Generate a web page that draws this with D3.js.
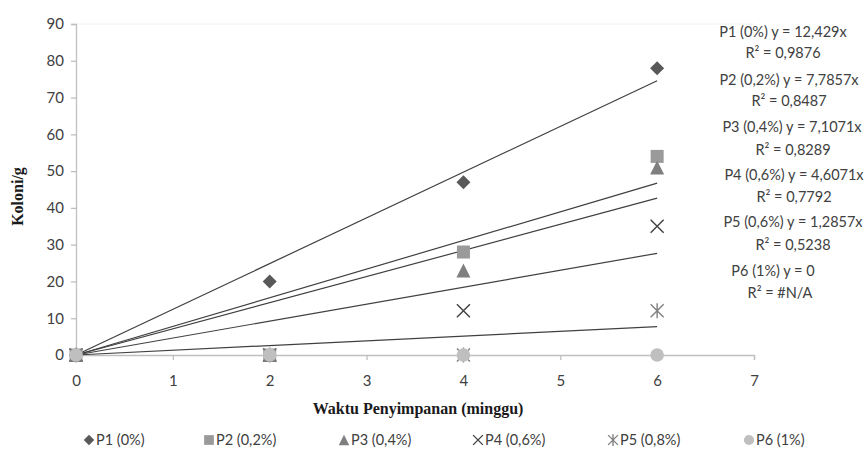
<!DOCTYPE html>
<html>
<head>
<meta charset="utf-8">
<script src="https://cdn.jsdelivr.net/npm/d3@7"></script>
<style>
  html, body { margin: 0; padding: 0; background: #fff; }
  svg { display: block; }
</style>
</head>
<body>
<svg id="chart" width="866" height="454"></svg>
<script>
// Storage time (weeks) at which colonies were counted
const weeks = [0, 2, 4, 6];

// Colony counts per treatment
const seriesNames = ["P1 (0%)", "P2 (0,2%)", "P3 (0,4%)", "P4 (0,6%)", "P5 (0,8%)", "P6 (1%)"];
const p1 = [0, 20, 47, 78];
const p2 = [0, 0, 28, 54];
const p3 = [0, 0, 23, 51];
const p4 = [0, 0, 12, 35];
const p5 = [0, 0, 0, 12];
const p6 = [0, 0, 0, 0];

// Linear trend (through origin) slopes and equation labels
const slopes = [12.429, 7.7857, 7.1071, 4.6071, 1.2857, 0];
const eqLabels = ["P1 (0%) y = 12,429x", "P2 (0,2%) y = 7,7857x", "P3 (0,4%) y = 7,1071x",
                  "P4 (0,6%) y = 4,6071x", "P5 (0,6%) y = 1,2857x", "P6 (1%) y = 0"];
const r2Labels = ["R² = 0,9876", "R² = 0,8487", "R² = 0,8289", "R² = 0,7792", "R² = 0,5238", "R² = #N/A"];

const xTicks = [0, 1, 2, 3, 4, 5, 6, 7];
const yTicks = [0, 10, 20, 30, 40, 50, 60, 70, 80, 90];

const values = [p1, p2, p3, p4, p5, p6];
const markerShapes = ["diamond", "square", "triangle", "x", "asterisk", "circle"];
const markerColors = ["#595959", "#9a9a9a", "#7f7f7f", "#404040", "#808080", "#bfbfbf"];

const svg = d3.select("#chart");
const x = d3.scaleLinear().domain([0, 7]).range([76, 754]);
const y = d3.scaleLinear().domain([0, 90]).range([355, 24]);

const tickFont = "Lato, 'Open Sans', sans-serif";
const textColor = "#404040";

// faint top border of the plot area
svg.append("line")
  .attr("x1", x(0)).attr("x2", x(7)).attr("y1", y(90)).attr("y2", y(90))
  .attr("stroke", "#f2f2f2").attr("stroke-width", 1);

// y axis
const yAxis = svg.append("g")
  .attr("transform", `translate(${x(0)},0)`)
  .call(d3.axisLeft(y).tickValues(yTicks).tickFormat(d3.format("d")).tickSize(5).tickPadding(7));
// x axis
const xAxis = svg.append("g")
  .attr("transform", `translate(0,${y(0)})`)
  .call(d3.axisBottom(x).tickValues(xTicks).tickFormat(d3.format("d")).tickSize(5).tickPadding(15));

[yAxis, xAxis].forEach(g => {
  g.select(".domain").attr("stroke", "#bfbfbf").attr("stroke-width", 1.3);
  g.selectAll(".tick line").attr("stroke", "#bfbfbf").attr("stroke-width", 1.3);
  g.selectAll(".tick text")
    .attr("fill", textColor)
    .style("font-family", tickFont)
    .style("font-size", "15px");
});

// axis titles
svg.append("text")
  .attr("transform", `translate(23,${y(45) + 7}) rotate(-90)`)
  .attr("text-anchor", "middle")
  .style("font-family", "'Liberation Serif', 'Times New Roman', serif")
  .style("font-weight", "bold")
  .style("font-size", "16px")
  .attr("fill", "#1a1a1a")
  .text("Koloni/g");

svg.append("text")
  .attr("x", 418).attr("y", 414)
  .attr("text-anchor", "middle")
  .style("font-family", "'Liberation Serif', 'Times New Roman', serif")
  .style("font-weight", "bold")
  .style("font-size", "16px")
  .attr("fill", "#1a1a1a")
  .text("Waktu Penyimpanan (minggu)");

// trend lines
slopes.forEach((m, i) => {
  if (i === 5) return;
  svg.append("line")
    .attr("x1", x(0)).attr("y1", y(0))
    .attr("x2", x(6)).attr("y2", y(m * 6))
    .attr("stroke", "#404040").attr("stroke-width", 1.2);
});

// marker drawing
function drawMarker(g, shape, cx, cy, color, s) {
  s = s || 1;
  if (shape === "diamond") {
    const h = 7 * s;
    g.append("path").attr("d", `M${cx},${cy - h}L${cx + h},${cy}L${cx},${cy + h}L${cx - h},${cy}Z`)
      .attr("fill", color);
  } else if (shape === "square") {
    const h = 6.5 * s;
    g.append("rect").attr("x", cx - h).attr("y", cy - h).attr("width", 2 * h).attr("height", 2 * h)
      .attr("fill", color);
  } else if (shape === "triangle") {
    const h = 7 * s;
    g.append("path").attr("d", `M${cx},${cy - h}L${cx + h},${cy + h}L${cx - h},${cy + h}Z`)
      .attr("fill", color);
  } else if (shape === "x") {
    const h = 6.5 * s;
    g.append("path").attr("d", `M${cx - h},${cy - h}L${cx + h},${cy + h}M${cx - h},${cy + h}L${cx + h},${cy - h}`)
      .attr("stroke", color).attr("stroke-width", 1.4).attr("fill", "none");
  } else if (shape === "asterisk") {
    const h = 6.5 * s;
    g.append("path").attr("d", `M${cx - h},${cy - h}L${cx + h},${cy + h}M${cx - h},${cy + h}L${cx + h},${cy - h}M${cx},${cy - h - 1}L${cx},${cy + h + 1}`)
      .attr("stroke", color).attr("stroke-width", 1.4).attr("fill", "none");
  } else if (shape === "circle") {
    g.append("circle").attr("cx", cx).attr("cy", cy).attr("r", 6.8 * s).attr("fill", color);
  }
}

// data markers
const markers = svg.append("g");
values.forEach((vals, i) => {
  vals.forEach((v, j) => {
    drawMarker(markers, markerShapes[i], x(weeks[j]), y(v), markerColors[i]);
  });
});

// trendline equations
const eqCenters = [783, 789, 792, 794, 793, 773];
const r2Centers = [783, 789, 793, 794, 793, 780];
const eqY = [37, 85, 132, 180, 227, 276];
const r2Y = [58, 106, 155, 202, 250, 298];
eqLabels.forEach((t, i) => {
  svg.append("text").attr("x", eqCenters[i]).attr("y", eqY[i])
    .attr("text-anchor", "middle").attr("fill", textColor)
    .style("font-family", tickFont).style("font-size", "14.5px").text(t);
  svg.append("text").attr("x", r2Centers[i]).attr("y", r2Y[i])
    .attr("text-anchor", "middle").attr("fill", textColor)
    .style("font-family", tickFont).style("font-size", "14.5px").text(r2Labels[i]);
});

// legend
const legendX = [89, 209, 344, 478, 613, 749];
const legend = svg.append("g");
seriesNames.forEach((name, i) => {
  drawMarker(legend, markerShapes[i], legendX[i], 440, markerColors[i], 0.75);
  legend.append("text").attr("x", legendX[i] + 7).attr("y", 445)
    .attr("fill", textColor)
    .style("font-family", tickFont).style("font-size", "14.5px")
    .text(name);
});
</script>
</body>
</html>
